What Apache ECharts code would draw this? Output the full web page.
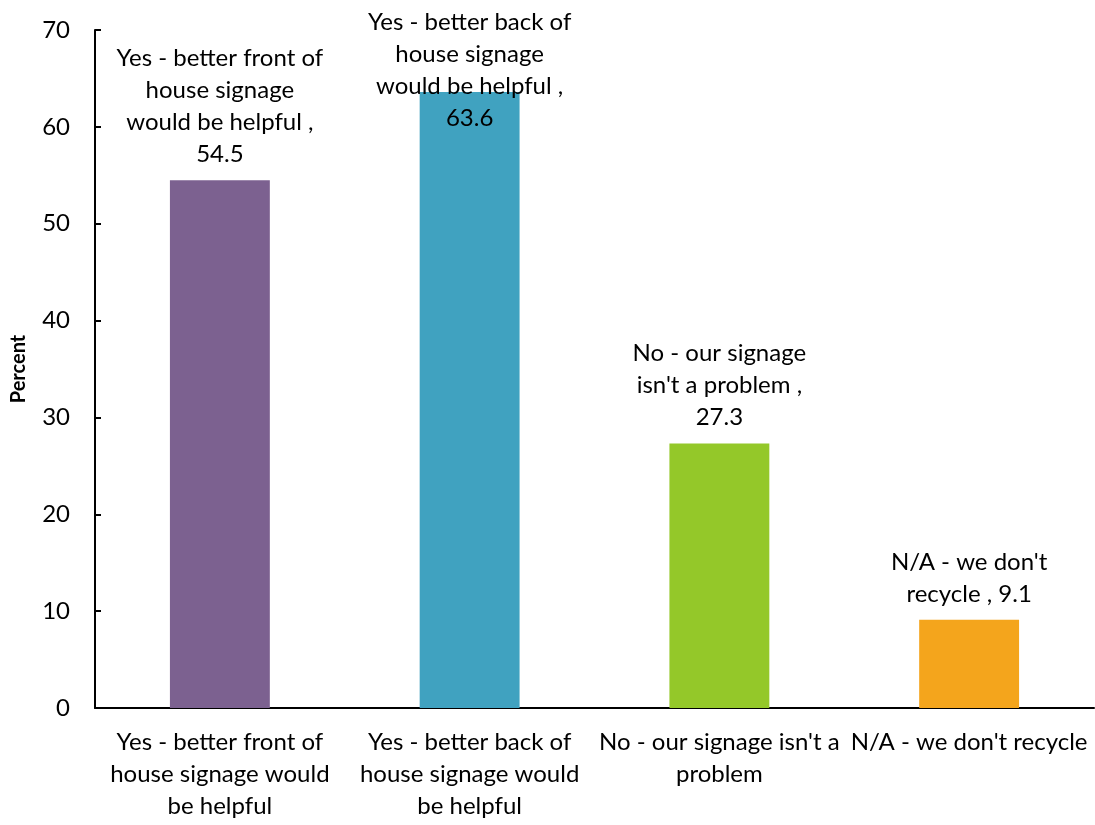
<!DOCTYPE html>
<html>
<head>
<meta charset="utf-8">
<script src="https://cdn.jsdelivr.net/npm/echarts@6/dist/echarts.min.js"></script>
<style>
  html, body { margin: 0; padding: 0; background: #fff; }
  #chart { width: 1095px; height: 825px; }
</style>
</head>
<body>
<div id="chart"></div>
<script>
// axis categories (line breaks as in the picture)
const categories = [
  "Yes - better front of\nhouse signage would\nbe helpful",
  "Yes - better back of\nhouse signage would\nbe helpful",
  "No - our signage isn't a\nproblem",
  "N/A - we don't recycle"
];
// bar label text before the value
const labelNames = [
  "Yes - better front of\nhouse signage\nwould be helpful ,\n",
  "Yes - better back of\nhouse signage\nwould be helpful ,\n",
  "No - our signage\nisn't a problem ,\n",
  "N/A - we don't\nrecycle , "
];
const values = [54.5, 63.6, 27.3, 9.1];
const barColors = ["#7C6190", "#40A2C0", "#94C829", "#F4A51C"];
const yTicks = { min: 0, max: 70, interval: 10 };

const FONT = "Lato, 'Open Sans', sans-serif";
const chart = echarts.init(document.getElementById("chart"));

const option = {
  animation: false,
  grid: {
    left: 95,
    right: 1,
    top: 30,
    bottom: 117,
    containLabel: false,
    outerBoundsMode: "none"
  },
  xAxis: {
    type: "category",
    data: categories,
    axisLine: { lineStyle: { color: "#000", width: 2 } },
    axisTick: { inside: true, length: 8, lineStyle: { color: "#000", width: 2 } },
    axisLabel: {
      interval: 0,
      color: "#000",
      fontFamily: FONT,
      fontSize: 24,
      lineHeight: 32,
      margin: 18
    }
  },
  yAxis: {
    type: "value",
    min: yTicks.min,
    max: yTicks.max,
    interval: yTicks.interval,
    name: "Percent",
    nameLocation: "middle",
    nameGap: 66,
    nameTextStyle: { color: "#000", fontFamily: FONT, fontSize: 20, fontWeight: "bold" },
    axisLine: { show: true, lineStyle: { color: "#000", width: 2 } },
    axisTick: { show: true, inside: true, length: 6, lineStyle: { color: "#000", width: 2 } },
    splitLine: { show: false },
    axisLabel: { color: "#000", fontFamily: FONT, fontSize: 24, margin: 25 }
  },
  series: [
    {
      type: "bar",
      barWidth: "40%",
      data: values.map((v, i) => ({
        value: v,
        itemStyle: { color: barColors[i] },
        // the tallest bar's label is pushed down to stay inside the chart
        label: v === Math.max(...values) ? { offset: [0, 52] } : undefined
      })),
      label: {
        show: true,
        position: "top",
        distance: 10,
        color: "#000",
        fontFamily: FONT,
        fontSize: 24,
        lineHeight: 32,
        align: "center",
        formatter: (p) => labelNames[p.dataIndex] + p.value
      }
    }
  ]
};

chart.setOption(option);
</script>
</body>
</html>
